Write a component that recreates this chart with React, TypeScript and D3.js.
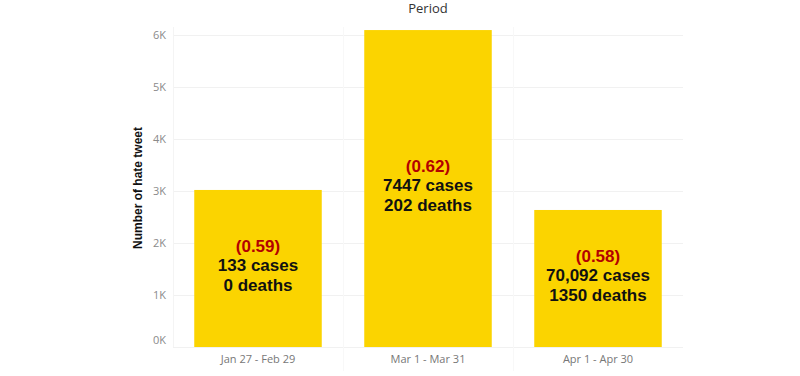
import { useEffect, useRef } from "react";
import * as d3 from "d3";

const periods = ["Jan 27 - Feb 29", "Mar 1 - Mar 31", "Apr 1 - Apr 30"];
const tweetCounts = [3020, 6095, 2635];
const sentimentScores = ["(0.59)", "(0.62)", "(0.58)"];
const caseLabels = ["133 cases", "7447 cases", "70,092 cases"];
const deathLabels = ["0 deaths", "202 deaths", "1350 deaths"];
const yTicks = [0, 1000, 2000, 3000, 4000, 5000, 6000];

const App = () => {
    const ref = useRef<SVGSVGElement>(null);

    useEffect(() => {
        const width = 800;
        const height = 376;
        const margin = { top: 35, left: 173, right: 117, bottom: 29 };
        const innerW = width - margin.left - margin.right;
        const innerH = height - margin.top - margin.bottom;

        const svg = d3.select(ref.current);
        svg.selectAll("*").remove();

        const x = d3.scaleBand().domain(periods).range([0, innerW]).paddingInner(0.25).paddingOuter(0.125);
        const y = d3.scaleLinear().domain([0, 6000]).range([innerH, 0]);

        const g = svg.append("g").attr("transform", `translate(${margin.left},${margin.top})`);

        // gridlines
        g.selectAll(".grid")
            .data(yTicks)
            .enter()
            .append("line")
            .attr("x1", 0)
            .attr("x2", innerW)
            .attr("y1", (d) => y(d) + 0.5)
            .attr("y2", (d) => y(d) + 0.5)
            .attr("stroke", "#f1f1f1")
            .attr("stroke-width", 1);

        // column dividers (very faint)
        const full = d3.scaleBand().domain(periods).range([0, innerW]);
        g.selectAll(".div")
            .data(periods.slice(1))
            .enter()
            .append("line")
            .attr("x1", (d) => (full(d) as number) + 0.5)
            .attr("x2", (d) => (full(d) as number) + 0.5)
            .attr("y1", -8)
            .attr("y2", innerH + 24)
            .attr("stroke", "#f8f8f8");

        g.append("line")
            .attr("x1", 0.5).attr("x2", 0.5)
            .attr("y1", -8).attr("y2", innerH)
            .attr("stroke", "#f4f4f4");

        // y tick labels
        g.selectAll(".ytick")
            .data(yTicks)
            .enter()
            .append("text")
            .attr("x", -7)
            .attr("y", (d) => (d === 0 ? y(d) - 7 : y(d)))
            .attr("dy", "0.35em")
            .attr("text-anchor", "end")
            .attr("font-family", "Open Sans, sans-serif")
            .attr("font-size", 11)
            .attr("fill", "#8a8a8a")
            .text((d) => `${d / 1000}K`);

        // bars
        g.selectAll(".bar")
            .data(tweetCounts)
            .enter()
            .append("rect")
            .attr("x", (d, i) => x(periods[i]) as number)
            .attr("y", (d) => y(d))
            .attr("width", x.bandwidth())
            .attr("height", (d) => innerH - y(d))
            .attr("fill", "#fbd400");

        // labels inside bars
        const lineH = 19.5;
        tweetCounts.forEach((d, i) => {
            const cx = (x(periods[i]) as number) + x.bandwidth() / 2;
            const cy = (y(d) + innerH) / 2 - 3;
            const lines = [
                { t: sentimentScores[i], c: "#b30000" },
                { t: caseLabels[i], c: "#111" },
                { t: deathLabels[i], c: "#111" },
            ];
            lines.forEach((l, j) => {
                g.append("text")
                    .attr("x", cx)
                    .attr("y", cy + (j - 1) * lineH)
                    .attr("dy", "0.35em")
                    .attr("text-anchor", "middle")
                    .attr("font-family", "Liberation Sans, Arial, sans-serif")
                    .attr("font-weight", "bold")
                    .attr("font-size", 17)
                    .attr("fill", l.c)
                    .text(l.t);
            });
        });

        // x labels
        g.selectAll(".xlab")
            .data(periods)
            .enter()
            .append("text")
            .attr("x", (d) => (x(d) as number) + x.bandwidth() / 2)
            .attr("y", innerH + 12)
            .attr("dy", "0.35em")
            .attr("text-anchor", "middle")
            .attr("font-family", "Open Sans, sans-serif")
            .attr("font-size", 11)
            .attr("fill", "#777")
            .text((d) => d);

        // titles
        svg.append("text")
            .attr("x", margin.left + innerW / 2)
            .attr("y", 8)
            .attr("dy", "0.35em")
            .attr("text-anchor", "middle")
            .attr("font-family", "Open Sans, sans-serif")
            .attr("font-size", 13)
            .attr("fill", "#333")
            .text("Period");

        svg.append("text")
            .attr("transform", `translate(138, ${margin.top + innerH / 2 - 3}) rotate(-90)`)
            .attr("dy", "0.35em")
            .attr("text-anchor", "middle")
            .attr("font-family", "Liberation Sans, Arial, sans-serif")
            .attr("font-weight", "bold")
            .attr("font-size", 12)
            .attr("fill", "#111")
            .text("Number of hate tweet");
    }, []);

    return (
        <svg ref={ref} width={800} height={376} style={{ position: "absolute", left: 0, top: 0, background: "#fff" }} />
    );
};

export default App;
